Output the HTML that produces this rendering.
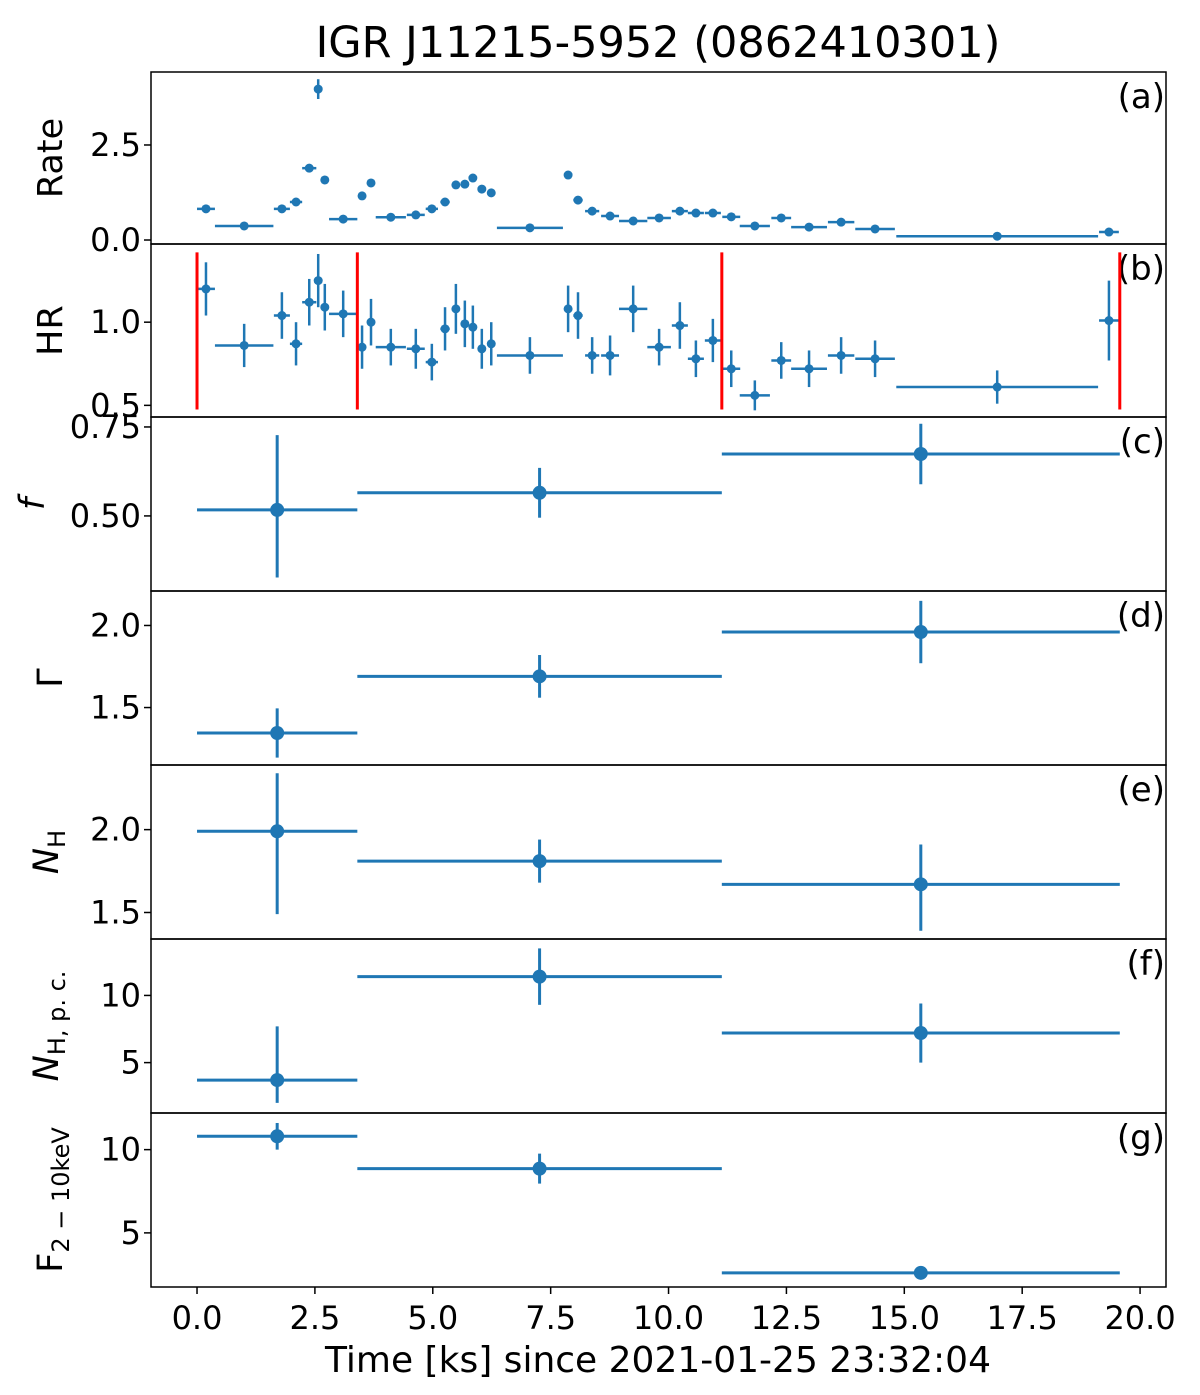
<!DOCTYPE html>
<html><head><meta charset="utf-8"><style>
body{margin:0;background:#fff}
svg text{font-family:"DejaVu Sans","Liberation Sans",sans-serif;fill:#000}
</style></head><body>
<svg id="fig" width="1200" height="1390" viewBox="0 0 1200 1390" xmlns="http://www.w3.org/2000/svg"></svg>
<script>
// ---- data ----
const rateT=[0.19,1.0,1.80,2.10,2.38,2.57,2.71,3.10,3.50,3.69,4.11,4.64,4.98,5.26,5.49,5.68,5.85,6.04,6.24,7.06,7.87,8.08,8.38,8.76,9.25,9.80,10.24,10.58,10.94,11.33,11.83,12.39,12.98,13.66,14.38,16.97,19.34];
const rateHW=[0.19,0.62,0.17,0.13,0.15,0.05,0.05,0.30,0.05,0.05,0.32,0.19,0.13,0.10,0.08,0.08,0.08,0.08,0.08,0.70,0.05,0.10,0.15,0.19,0.30,0.25,0.17,0.17,0.17,0.19,0.32,0.21,0.38,0.28,0.42,2.14,0.21];
const rateV=[0.82,0.37,0.82,1.0,1.89,3.97,1.58,0.55,1.16,1.5,0.6,0.66,0.82,1.0,1.45,1.47,1.63,1.34,1.24,0.32,1.71,1.05,0.76,0.63,0.5,0.58,0.76,0.71,0.71,0.61,0.37,0.58,0.34,0.47,0.29,0.1,0.21];
const rateE=[0.03,0.02,0.03,0.03,0.04,0.26,0.04,0.03,0.04,0.04,0.02,0.03,0.03,0.03,0.04,0.04,0.04,0.04,0.04,0.02,0.04,0.03,0.03,0.03,0.02,0.02,0.03,0.03,0.03,0.03,0.02,0.03,0.02,0.02,0.02,0.01,0.03];
const hrV=[1.20,0.86,1.04,0.87,1.12,1.25,1.09,1.05,0.85,1.0,0.85,0.84,0.76,0.96,1.08,0.99,0.97,0.84,0.87,0.80,1.08,1.04,0.80,0.80,1.08,0.85,0.98,0.78,0.89,0.72,0.56,0.77,0.72,0.80,0.78,0.61,1.01];
const hrE=[0.16,0.13,0.14,0.13,0.14,0.16,0.14,0.14,0.13,0.14,0.11,0.12,0.11,0.13,0.15,0.14,0.13,0.12,0.13,0.11,0.14,0.14,0.11,0.12,0.14,0.11,0.14,0.11,0.13,0.11,0.09,0.11,0.11,0.11,0.11,0.10,0.24];
const redLines=[0,3.4,11.13,19.57];
const binT=[1.7,7.265,15.35];
const binHW=[1.7,3.865,4.22];
const fV=[0.517,0.565,0.674], fEp=[0.21,0.07,0.085], fEm=[0.19,0.07,0.085];
const gV=[1.345,1.69,1.96], gEp=[0.15,0.13,0.19], gEm=[0.15,0.13,0.19];
const nhV=[1.99,1.81,1.67], nhEp=[0.35,0.13,0.24], nhEm=[0.5,0.13,0.28];
const npcV=[3.7,11.4,7.2], npcEp=[4.0,2.1,2.2], npcEm=[1.7,2.1,2.2];
const fxV=[10.8,8.86,2.6], fxEp=[0.8,0.9,0.15], fxEm=[0.8,0.9,0.15];
const xTicks=[0,2.5,5,7.5,10,12.5,15,17.5,20];
const xTickLabels=["0.0","2.5","5.0","7.5","10.0","12.5","15.0","17.5","20.0"];

const NS="http://www.w3.org/2000/svg", svg=document.getElementById('fig');
const L=151,R=1166,XMIN=-0.976,XMAX=20.55,C="#1f77b4";
const X=t=>L+(t-XMIN)/(XMAX-XMIN)*(R-L);
function mk(tag,a,p){const e=document.createElementNS(NS,tag);for(const k in a)e.setAttribute(k,a[k]);(p||svg).appendChild(e);return e;}
function panel(name,top,bot,ymin,ymax,ticks,tlabels,letter){
  const g=mk('g',{});
  
  
  const Y=v=>bot-(v-ymin)/(ymax-ymin)*(bot-top);
  ticks.forEach((v,i)=>{const y=Y(v);mk('line',{x1:L-7,x2:L,y1:y,y2:y,stroke:'#000','stroke-width':1.5},g);
    const t=mk('text',{x:L-10,y:y+11,'text-anchor':'end','font-size':32},g);t.textContent=tlabels[i];});
  const lt=mk('text',{x:1165,y:top+36,'text-anchor':'end','font-size':34},g);lt.textContent=letter;
  return {g,Y,top,bot};
}
function frame(p){mk('rect',{x:L,y:p.top,width:R-L,height:p.bot-p.top,fill:'none',stroke:'#000','stroke-width':1.5},p.g);}
function ylabel(p,html,x){const t=mk('text',{x:0,y:0,'text-anchor':'middle','font-size':35,transform:`translate(${x},${(p.top+p.bot)/2}) rotate(-90)`},p.g);t.innerHTML=html;}
function errpts(p,ts,hws,vs,ep,em,r,w){
  ts.forEach((t,i)=>{
    const pt=mk('g',{},p.g);
    
    
    mk('line',{x1:X(t-hws[i]),x2:X(t+hws[i]),y1:p.Y(vs[i]),y2:p.Y(vs[i]),stroke:C,'stroke-width':w},pt);
    mk('line',{x1:X(t),x2:X(t),y1:p.Y(vs[i]+ep[i]),y2:p.Y(vs[i]-em[i]),stroke:C,'stroke-width':w},pt);
    mk('circle',{cx:X(t),cy:p.Y(vs[i]),r:r,fill:C},pt);
  });
}
const ti=mk('text',{x:658,y:57,'text-anchor':'middle','font-size':43});ti.textContent='IGR J11215-5952 (0862410301)';


const pa=panel('panel-rate',72,244,-0.105,4.42,[0,2.5],["0.0","2.5"],'(a)');
errpts(pa,rateT,rateHW,rateV,rateE,rateE,4.5,2.5);frame(pa);ylabel(pa,'Rate',62);

const pb=panel('panel-hr',244,417,0.43,1.47,[0.5,1.0],["0.5","1.0"],'(b)');
errpts(pb,rateT,rateHW,hrV,hrE,hrE,4.5,2.5);
redLines.forEach(t=>{const l=mk('line',{x1:X(t),x2:X(t),y1:pb.Y(1.42),y2:pb.Y(0.475),stroke:'#ff0000','stroke-width':3},pb.g);});
frame(pb);ylabel(pb,'HR',62);

const pc=panel('panel-f',417,591,0.289,0.778,[0.5,0.75],["0.50","0.75"],'(c)');
errpts(pc,binT,binHW,fV,fEp,fEm,7,3);frame(pc);ylabel(pc,'<tspan font-style="italic">f</tspan>',44);

const pd=panel('panel-gamma',591,765,1.15,2.21,[1.5,2.0],["1.5","2.0"],'(d)');
errpts(pd,binT,binHW,gV,gEp,gEm,7,3);frame(pd);ylabel(pd,'Γ',62);

const pe=panel('panel-nh',765,939,1.34,2.39,[1.5,2.0],["1.5","2.0"],'(e)');
errpts(pe,binT,binHW,nhV,nhEp,nhEm,7,3);frame(pe);ylabel(pe,'<tspan font-style="italic">N</tspan><tspan font-size="24" dy="7">H</tspan>',58);

const pf=panel('panel-nhpc',939,1113,1.25,14.2,[5,10],["5","10"],'(f)');
errpts(pf,binT,binHW,npcV,npcEp,npcEm,7,3);frame(pf);ylabel(pf,'<tspan font-style="italic">N</tspan><tspan font-size="24" dy="7">H, p. c.</tspan>',58);

const pg=panel('panel-flux',1113,1287,1.75,12.2,[5,10],["5","10"],'(g)');
errpts(pg,binT,binHW,fxV,fxEp,fxEm,7,3);frame(pg);ylabel(pg,'F<tspan font-size="24" dy="7">2 − 10keV</tspan>',62);

xTicks.forEach((t,i)=>{mk('line',{x1:X(t),x2:X(t),y1:1287,y2:1294,stroke:'#000','stroke-width':1.5});
  const tx=mk('text',{x:X(t),y:1329,'text-anchor':'middle','font-size':32});tx.textContent=xTickLabels[i];
  });
const xl=mk('text',{x:658,y:1372,'text-anchor':'middle','font-size':36});xl.textContent='Time [ks] since 2021-01-25 23:32:04';

</script>
</body></html>
